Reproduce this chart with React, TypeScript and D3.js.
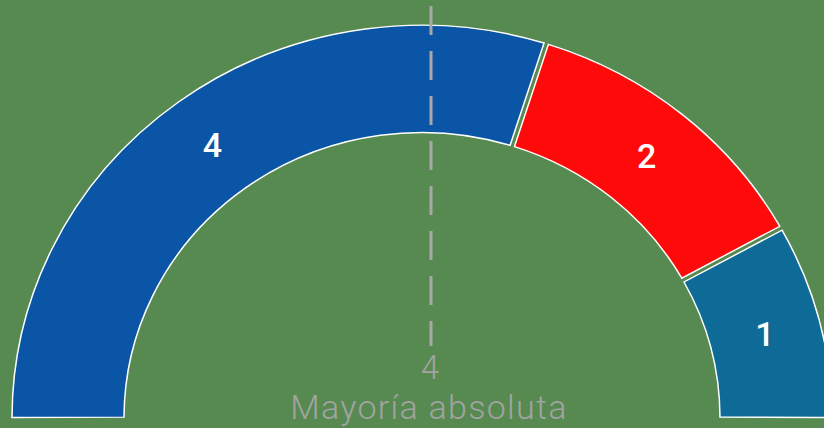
import React from "react";
import * as d3 from "d3";

const parties = ["A", "B", "C"];
const seats = [4, 2, 1];
const arcShare = [60, 24, 16];
const colors = ["#0A55A6", "#FF0A0A", "#0E6A97"];
const majority = 4;
const majorityLabel = "Mayoría absoluta";

const W = 824;
const H = 428;

export default function App() {
  const cx = 422;
  const cy = 418;
  const rOuter = 410;
  const rInner = 298;
  const sy = 0.958;
  const pad = 0.009;

  const pie = d3
    .pie<number>()
    .sort(null)
    .value((d) => d)
    .padAngle(pad)
    .startAngle(-Math.PI / 2 - pad / 2)
    .endAngle(Math.PI / 2 + pad / 2);
  const arcs = pie(arcShare);
  const arc = d3.arc<d3.PieArcDatum<number>>().innerRadius(rInner).outerRadius(rOuter);
  const labelArc = d3
    .arc<d3.PieArcDatum<number>>()
    .innerRadius((rInner + rOuter) / 2)
    .outerRadius((rInner + rOuter) / 2);

  return (
    <svg
      width={W}
      height={H}
      style={{ position: "absolute", left: 0, top: 0, background: "#578A51" }}
    >
      <rect width={W} height={H} fill="#578A51" />
      <g transform={`translate(${cx},${cy}) scale(1,${sy})`}>
        {arcs.map((a, i) => (
          <path
            key={parties[i]}
            d={arc(a) || ""}
            fill={colors[i]}
            stroke="#FFFFFF"
            strokeWidth={1.5}
          />
        ))}
      </g>
      {arcs.map((a, i) => {
        const [lx, ly] = labelArc.centroid(a);
        return (
          <text
            key={"l" + i}
            x={cx + lx}
            y={cy + ly * sy}
            textAnchor="middle"
            dominantBaseline="central"
            fill="#FFFFFF"
            fontFamily="Roboto, 'Open Sans', sans-serif"
            fontWeight={500}
            fontSize={34}
          >
            {seats[i]}
          </text>
        );
      })}
      <line
        x1={431}
        x2={431}
        y1={6}
        y2={346}
        stroke="#A8A8A8"
        strokeWidth={3}
        strokeDasharray="29 16"
      />
      <text
        x={430}
        y={379}
        textAnchor="middle"
        fill="#A3A3A3"
        fontFamily="Roboto, 'Open Sans', sans-serif"
        fontWeight={300}
        fontSize={33}
      >
        {majority}
      </text>
      <text
        x={429}
        y={419}
        textAnchor="middle"
        fill="#A3A3A3"
        fontFamily="Roboto, 'Open Sans', sans-serif"
        fontWeight={300}
        fontSize={34}
        letterSpacing={1.3}
      >
        {majorityLabel}
      </text>
    </svg>
  );
}
